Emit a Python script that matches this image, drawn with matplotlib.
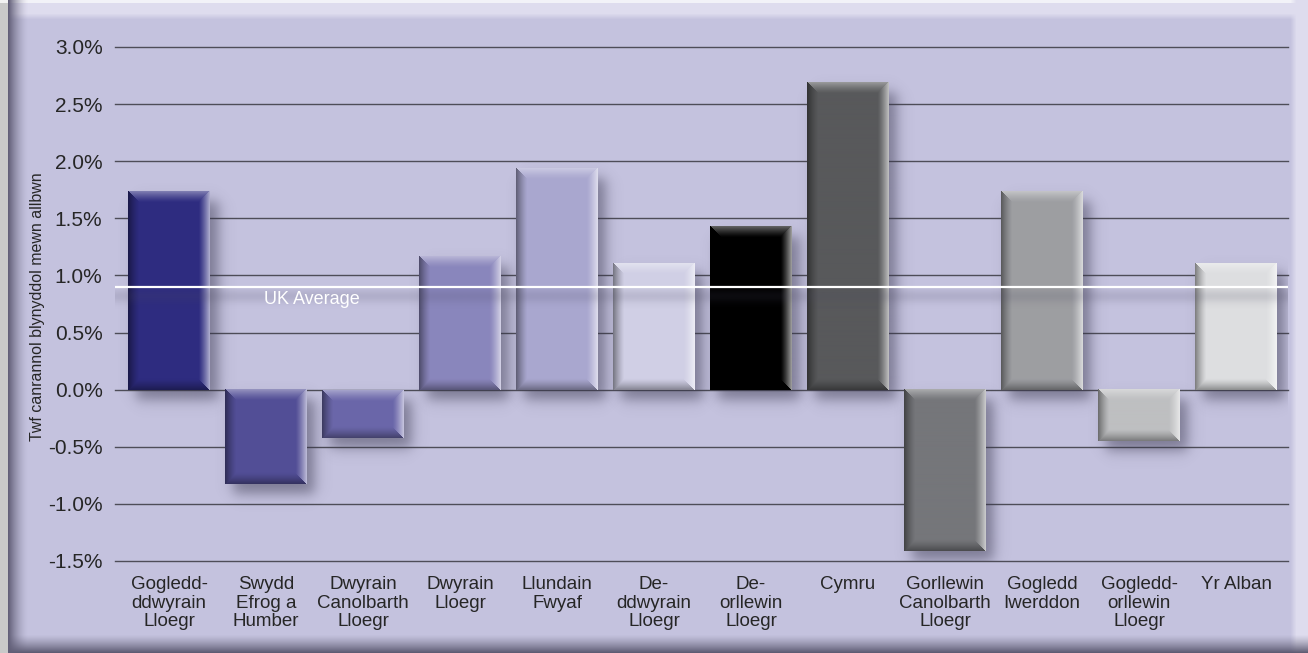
import numpy as np
import matplotlib
matplotlib.use("Agg")
import matplotlib.pyplot as plt
from matplotlib.colors import to_rgb

# ---------------- data ----------------
categories = ["Gogledd-\nddwyrain\nLloegr", "Swydd\nEfrog a\nHumber",
              "Dwyrain\nCanolbarth\nLloegr", "Dwyrain\nLloegr", "Llundain\nFwyaf",
              "De-\nddwyrain\nLloegr", "De-\norllewin\nLloegr", "Cymru",
              "Gorllewin\nCanolbarth\nLloegr", "Gogledd\nIwerddon",
              "Gogledd-\norllewin\nLloegr", "Yr Alban"]
values = [1.74, -0.83, -0.42, 1.17, 1.94, 1.11, 1.43, 2.69, -1.41, 1.74, -0.45, 1.11]
bar_colors = ["#2e2c80", "#524e96", "#6a66a9", "#8a86bc", "#a9a7cf", "#d0cfe5",
              "#000000", "#58595b", "#75767a", "#9d9ea2", "#bebfc1", "#dddee0"]
uk_average = 0.90
uk_label = "UK Average"
ytick_values = [-1.5, -1.0, -0.5, 0.0, 0.5, 1.0, 1.5, 2.0, 2.5, 3.0]
ylabel = "Twf canrannol blynyddol mewn allbwn"

plt.rcParams["font.family"] = ["Liberation Sans", "DejaVu Sans"]

W_PX, H_PX = 1308, 653
fig = plt.figure(figsize=(W_PX / 100, H_PX / 100), dpi=100)

# ---------------- background frame ----------------
base = np.array(to_rgb("#c4c2de"))
light = np.array(to_rgb("#dedcee"))
dark = np.array(to_rgb("#57556c"))
bg = np.ones((H_PX, W_PX, 3)) * base
yy, xx = np.mgrid[0:H_PX, 0:W_PX]
t_top = np.clip((19 - yy) / 6.0, 0, 1)
bg = bg * (1 - t_top[..., None]) + light * t_top[..., None]
bg[0:3, :, :] = np.array(to_rgb("#f2f2f8"))
t_right = np.clip((xx - 1290) / 6.0, 0, 1)
bg = bg * (1 - t_right[..., None]) + light * t_right[..., None]
t_bot = np.clip((yy - 634) / 19.0, 0, 1) ** 1.3
bg = bg * (1 - t_bot[..., None]) + dark * t_bot[..., None]
t_left = np.clip((28 - xx) / 20.0, 0, 1) ** 1.6
leftdark = np.array(to_rgb("#625f78"))
bg = bg * (1 - t_left[..., None]) + leftdark * t_left[..., None]
bg[:, 0:8, :] = np.array(to_rgb("#c9c9c9"))
bg[0:3, 0:8, :] = np.array(to_rgb("#f2f2f2"))
bax = fig.add_axes([0, 0, 1, 1])
bax.imshow(bg, aspect="auto", extent=(0, 1, 0, 1), origin="upper")
bax.set_axis_off()

# ---------------- main axes ----------------
left_px, right_px, top_px, bottom_px = 115, 1288, 47, 561
ax = fig.add_axes([left_px / W_PX, 1 - bottom_px / H_PX,
                   (right_px - left_px) / W_PX, (bottom_px - top_px) / H_PX])
ax.set_facecolor("none")
xlim = (-0.557, 11.536)
ylim = (-1.5, 3.0)
ax.set_xlim(*xlim)
ax.set_ylim(*ylim)
for s in ax.spines.values():
    s.set_visible(False)
px_x = (xlim[1] - xlim[0]) / (right_px - left_px)
px_y = (ylim[1] - ylim[0]) / (bottom_px - top_px)

for v in ytick_values:
    ax.axhline(v, color="#4e4d58", lw=1.0, zorder=1, clip_on=False)

def sig(z):
    return 1.0 / (1.0 + np.exp(-1.8 * z))

bar_w = 0.845
bevel = 11.0
for i, (v, c) in enumerate(zip(values, bar_colors)):
    x0, x1 = i - bar_w / 2, i + bar_w / 2
    yb, yt = min(0, v), max(0, v)
    # shadow
    m = 32
    sx0, sx1 = x0 - m * px_x, x1 + m * px_x
    sy0, sy1 = yb - m * px_y, yt + m * px_y
    nx = int(round((sx1 - sx0) / px_x)); ny = int(round((sy1 - sy0) / px_y))
    gx = np.linspace(sx0, sx1, nx)
    gy = np.linspace(sy1, sy0, ny)
    dxs, dys, s = 8 * px_x, -10 * px_y, 7.0
    ax_ = sig((gx - (x0 + dxs)) / (s * px_x)) - sig((gx - (x1 + dxs)) / (s * px_x))
    ay_ = sig((gy - (yb + dys)) / (s * px_y)) - sig((gy - (yt + dys)) / (s * px_y))
    alpha = 0.5 * np.outer(ay_, ax_)
    sh = np.zeros((ny, nx, 4))
    sh[..., :3] = np.array(to_rgb("#35334a"))
    sh[..., 3] = alpha
    ax.imshow(sh, extent=(sx0, sx1, sy0, sy1), aspect="auto", origin="upper",
              zorder=2, interpolation="bilinear")
    # bevelled bar
    W = int(round(bar_w / px_x)); H = max(int(round((yt - yb) / px_y)), 2)
    jj, ii = np.meshgrid(np.arange(W), np.arange(H))
    dl, dr, dt, db = jj, W - 1 - jj, ii, H - 1 - ii
    d = np.stack([dl, dr, dt, db])
    edge = np.argmin(d, axis=0)
    dmin = np.min(d, axis=0)
    inten = np.clip(1 - dmin / bevel, 0, 1) ** 1.3
    col = np.array(to_rgb(c))
    img = np.ones((H, W, 3)) * col
    white = np.ones(3); black = np.zeros(3)
    amt = {0: ("k", 0.42), 1: ("w", 0.6), 2: ("w", 0.38), 3: ("k", 0.35)}
    for e, (kind, a) in amt.items():
        mask = (edge == e)
        f = (inten * a)[..., None]
        target = white if kind == "w" else black
        mixed = img * (1 - f) + target * f
        img[mask] = mixed[mask]
    ax.imshow(img, extent=(x0, x1, yb, yt), aspect="auto", origin="upper",
              zorder=3, interpolation="bilinear")

# UK average line with soft shadow band
gy = np.linspace(uk_average, uk_average - 26 * px_y, 40)
prof = 0.16 * np.exp(-((uk_average - gy) / px_y - 9) ** 2 / (2 * 5.0 ** 2))
band = np.zeros((40, 2, 4))
band[..., :3] = np.array(to_rgb("#4a4860"))
band[..., 3] = prof[:, None]
ax.imshow(band, extent=(xlim[0], xlim[1], gy[-1], gy[0]), aspect="auto",
          origin="upper", zorder=4, interpolation="bilinear")
ax.axhline(uk_average, color="white", lw=1.6, zorder=5)
ax.text(0.98, uk_average - 13 * px_y, uk_label, color="white", fontsize=13,
        ha="left", va="center", zorder=6)

# ticks
ax.set_yticks(ytick_values)
ax.set_yticklabels([f"{v:.1f}%" for v in ytick_values], fontsize=15, color="#262626")
ax.set_xticks(range(len(categories)))
ax.set_xticklabels(categories, fontsize=13.5, color="#262626", linespacing=1.12)
ax.tick_params(axis="both", length=0)
ax.tick_params(axis="y", pad=9)
ax.tick_params(axis="x", pad=11)

fig.text(38 / W_PX, 1 - 307 / H_PX, ylabel, rotation=90, ha="center", va="center",
         fontsize=11.5, color="#262626")

fig.savefig("out.png", dpi=100)
